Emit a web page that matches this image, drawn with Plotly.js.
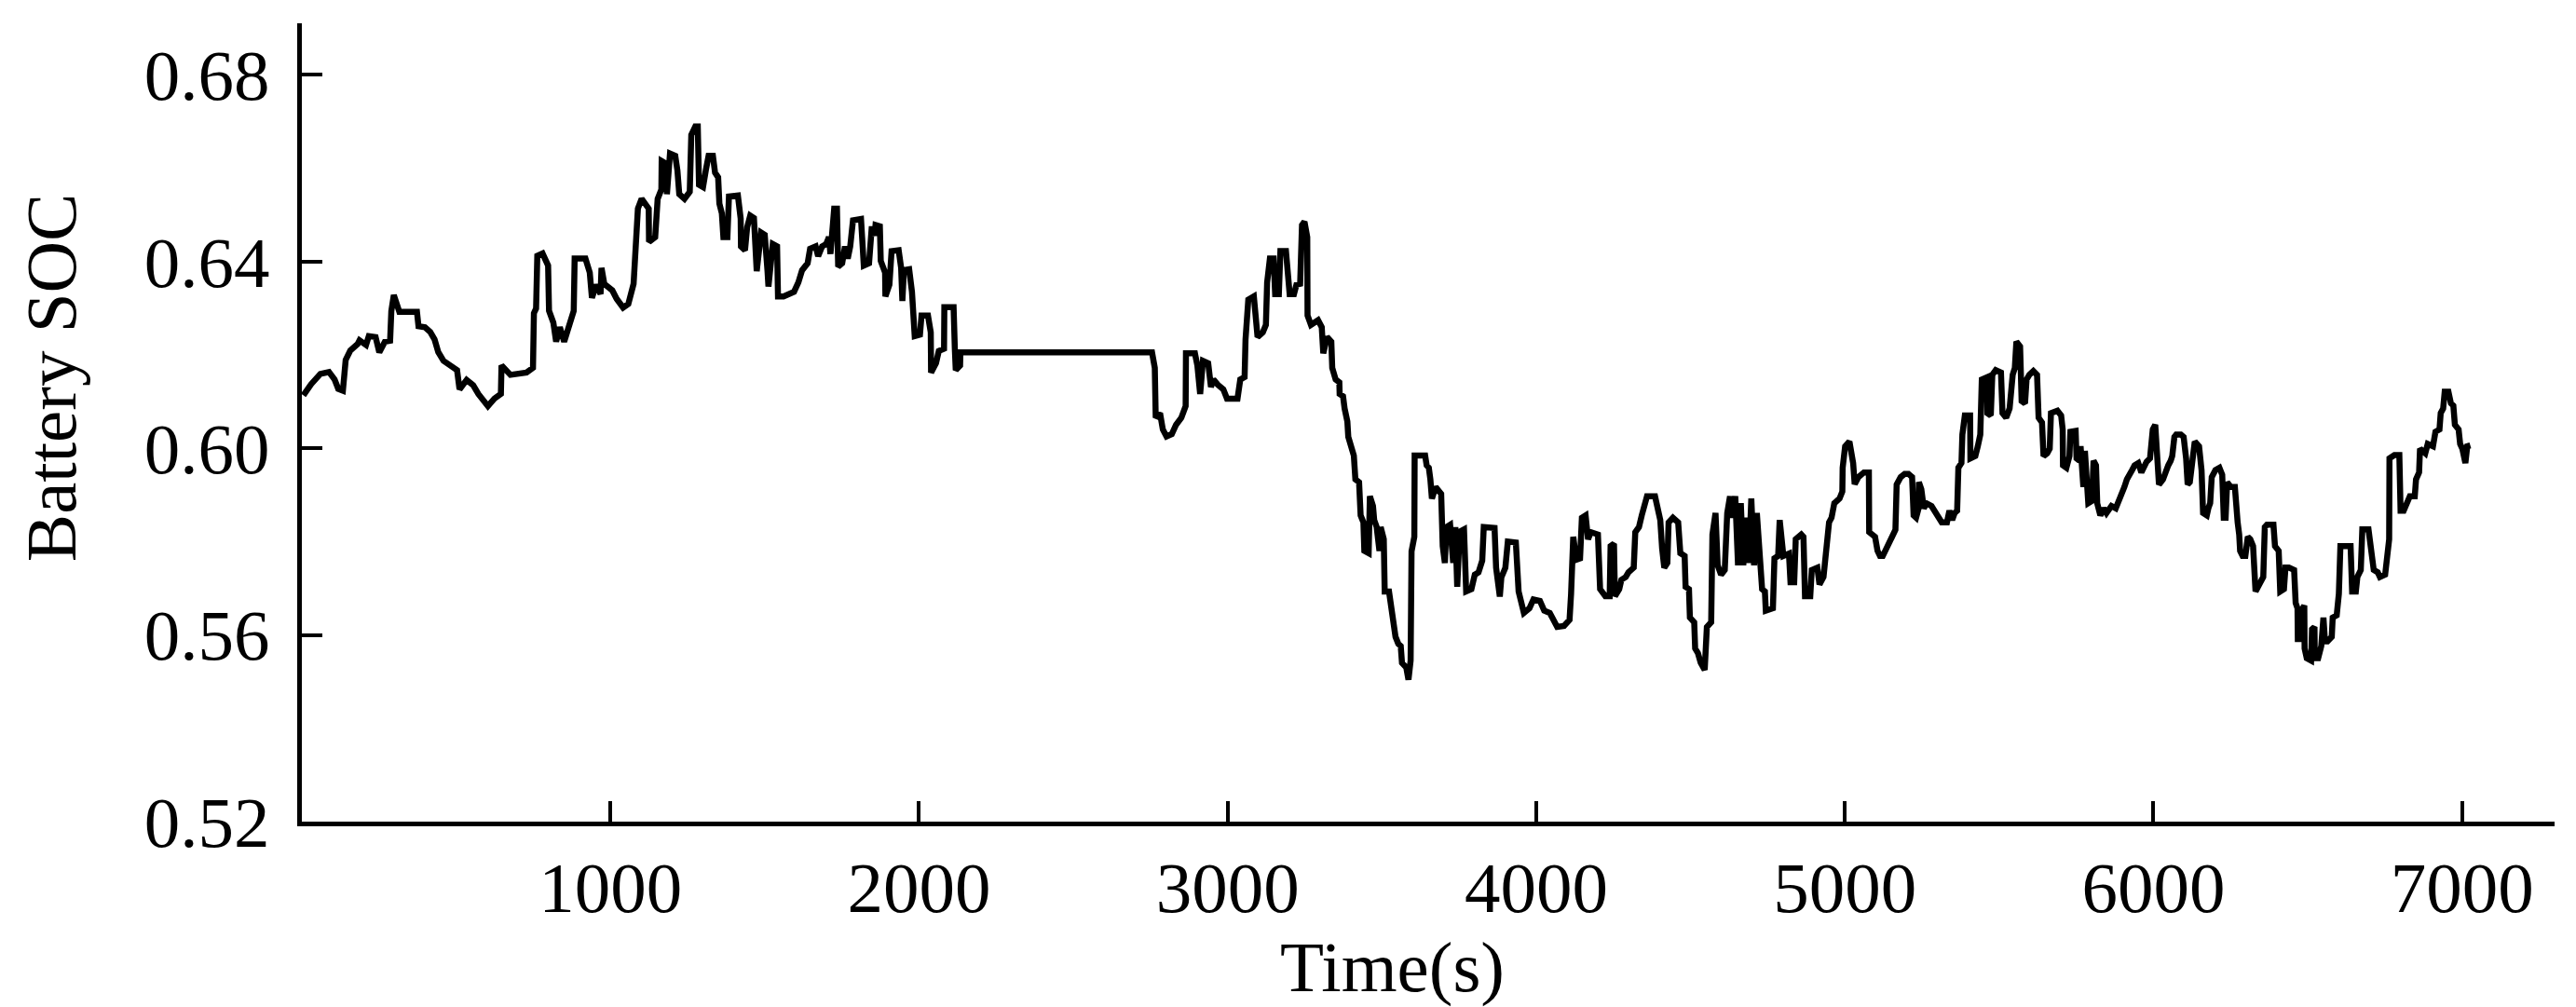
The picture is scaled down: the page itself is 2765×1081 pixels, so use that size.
<!DOCTYPE html>
<html>
<head>
<meta charset="utf-8">
<script src="https://cdn.plot.ly/plotly-3.0.1.min.js"></script>
<style>
  html, body { margin: 0; padding: 0; background: #ffffff; }
  #chart { width: 2765px; height: 1081px; }
</style>
</head>
<body>
<div id="chart"></div>
<script>
// Time axis values (s)
const timeSec = [
  5, 30, 60, 88, 106, 118, 133, 142, 157, 181, 187, 208, 217, 239, 251, 269, 286, 290, 298, 309,
  316, 373, 378, 399, 416, 430, 442, 459, 482, 503, 511, 534, 555, 572, 603, 624, 645, 647, 676, 728,
  749, 752, 759, 763, 780, 798, 801, 815, 824, 836, 850, 867, 881, 884, 919, 933, 940, 954, 968, 971,
  980, 1006, 1020, 1041, 1058, 1075, 1084, 1089, 1101, 1124, 1125, 1145, 1153, 1165, 1166, 1179, 1183, 1193, 1210, 1217,
  1223, 1240, 1257, 1262, 1275, 1283, 1287, 1300, 1309, 1318, 1332, 1339, 1349, 1353, 1361, 1366, 1379, 1384, 1413, 1422,
  1423, 1436, 1443, 1453, 1465, 1470, 1474, 1488, 1500, 1509, 1512, 1526, 1540, 1543, 1561, 1595, 1609, 1621, 1639, 1647,
  1665, 1673, 1686, 1699, 1708, 1713, 1725, 1734, 1738, 1751, 1760, 1769, 1777, 1786, 1812, 1821, 1838, 1847, 1856, 1859,
  1873, 1876, 1890, 1891, 1904, 1911, 1934, 1942, 1946, 1951, 1968, 1977, 1980, 1986, 2003, 2008, 2029, 2038, 2039, 2055,
  2064, 2081, 2082, 2112, 2116, 2119, 2133, 2134,
  2755, 2764, 2767, 2781, 2790, 2802, 2819, 2833, 2850, 2864, 2865, 2894, 2902, 2911, 2920, 2937, 2946, 2954, 2968, 2986,
  2998, 3032, 3041, 3055, 3058, 3067, 3085, 3093, 3097, 3114, 3124, 3128, 3137, 3149, 3154, 3166, 3171, 3189, 3197, 3201,
  3215, 3223, 3235, 3241, 3249, 3258, 3259, 3270, 3293, 3305, 3310, 3322, 3336, 3339, 3350, 3362, 3363, 3374, 3379, 3388,
  3391, 3402, 3409, 3414, 3426, 3431, 3440, 3443, 3457, 3461, 3471, 3475, 3483, 3492, 3496, 3506, 3509, 3523, 3530, 3535,
  3544, 3553, 3561, 3565, 3579, 3586, 3593, 3596, 3605, 3606, 3640, 3645, 3652, 3657, 3662, 3674, 3692, 3697, 3704, 3709,
  3721, 3731, 3738, 3744, 3752, 3766, 3773, 3790, 3801, 3813, 3825, 3830, 3865, 3870, 3882, 3887, 3900, 3908, 3934, 3943,
  3952, 3960, 3978, 3991, 4012, 4026, 4044, 4056, 4068, 4090, 4108, 4113, 4116, 4120, 4130, 4142, 4148, 4160, 4168, 4177,
  4200, 4203, 4207, 4224, 4238, 4241, 4252, 4255, 4269, 4276, 4290, 4299, 4316, 4321, 4333, 4342, 4356, 4359, 4385, 4394,
  4402, 4408, 4415, 4425, 4429, 4443, 4460, 4467, 4481, 4484, 4495, 4498, 4512, 4515, 4524, 4533, 4546, 4553, 4567, 4571,
  4581, 4588, 4599, 4611, 4619, 4628, 4633, 4645, 4654, 4663, 4671, 4680, 4689, 4697, 4706, 4715, 4723, 4732, 4741, 4744,
  4767, 4772, 4784, 4789, 4801, 4819, 4824, 4836, 4841, 4859, 4866, 4871, 4888, 4893, 4911, 4918, 4931, 4940, 4949, 4957,
  4966, 4983, 4992, 4993, 5001, 5015, 5027, 5032, 5044, 5062, 5078, 5079,
  5089, 5098, 5106, 5114, 5123, 5131, 5139, 5148, 5156, 5164, 5168, 5181, 5194, 5206, 5218, 5223, 5231, 5239, 5240, 5248,
  5256, 5264, 5281, 5289, 5298, 5306, 5314, 5331, 5339, 5348, 5356, 5364, 5368, 5378, 5381, 5389, 5406, 5407, 5423, 5431,
  5439, 5444, 5461, 5462, 5473, 5478, 5489, 5506, 5511, 5523, 5534, 5544, 5551, 5556, 5568, 5573, 5584, 5589, 5598, 5611,
  5623, 5628, 5639, 5644, 5656, 5664, 5668, 5689, 5701, 5706, 5707, 5718, 5728, 5731, 5748, 5751, 5761, 5764, 5773, 5778,
  5784, 5789, 5801, 5806, 5814, 5818, 5828, 5839, 5848, 5856, 5864, 5878, 5889, 5894, 5906, 5914, 5923, 5931, 5939, 5951,
  5961, 5968, 5978, 5989, 5998, 6006, 6014, 6018, 6031, 6039, 6048, 6056, 6061, 6068, 6074, 6089, 6098, 6106, 6111, 6118,
  6123, 6128, 6134, 6148, 6156, 6161, 6173, 6178, 6184, 6189, 6201, 6214, 6223, 6228, 6234, 6239, 6251, 6264, 6268, 6273,
  6278, 6281, 6289, 6298, 6306, 6314, 6323, 6328, 6331, 6339, 6348, 6356, 6361, 6368, 6389, 6394, 6406, 6411, 6423, 6428,
  6439, 6456, 6461, 6467, 6468, 6477, 6484, 6489, 6490, 6497, 6511, 6514, 6522, 6523, 6534, 6544, 6551, 6556, 6564, 6578,
  6581, 6594, 6601, 6606, 6639, 6644, 6656, 6661, 6672, 6677, 6697, 6706, 6714, 6727, 6734, 6751, 6761, 6764, 6765, 6781,
  6797, 6801, 6811, 6817, 6831, 6847, 6851, 6861, 6864, 6881, 6889, 6906, 6914, 6927, 6931, 6939, 6944, 6956, 6964, 6972,
  6977, 6989, 6994, 7001, 7011, 7017, 7027
];

// Battery state of charge
const batterySOC = [
  0.6113, 0.6137, 0.6159, 0.6163, 0.6147, 0.6127, 0.6123, 0.6189, 0.6209, 0.6223, 0.6231, 0.6221, 0.6240, 0.6238, 0.6205, 0.6228, 0.6230, 0.6294, 0.6328, 0.6305,
  0.6292, 0.6292, 0.6261, 0.6259, 0.6249, 0.6233, 0.6206, 0.6187, 0.6177, 0.6167, 0.6126, 0.6146, 0.6135, 0.6116, 0.6090, 0.6106, 0.6116, 0.6177, 0.6157, 0.6162,
  0.6172, 0.6289, 0.6299, 0.6412, 0.6417, 0.6391, 0.6294, 0.6269, 0.6228, 0.6259, 0.6228, 0.6259, 0.6294, 0.6406, 0.6406, 0.6376, 0.6322, 0.6350, 0.6330, 0.6386,
  0.6352, 0.6338, 0.6320, 0.6301, 0.6309, 0.6352, 0.6437, 0.6513, 0.6534, 0.6513, 0.6442, 0.6452, 0.6534, 0.6554, 0.6615, 0.6610, 0.6544, 0.6631, 0.6626, 0.6595,
  0.6544, 0.6534, 0.6549, 0.6671, 0.6689, 0.6689, 0.6564, 0.6559, 0.6595, 0.6626, 0.6626, 0.6590, 0.6580, 0.6524, 0.6503, 0.6452, 0.6452, 0.6539, 0.6541, 0.6492,
  0.6432, 0.6424, 0.6473, 0.6498, 0.6493, 0.6422, 0.6379, 0.6462, 0.6457, 0.6379, 0.6346, 0.6437, 0.6432, 0.6325, 0.6325, 0.6335, 0.6355, 0.6381, 0.6396, 0.6427,
  0.6432, 0.6411, 0.6432, 0.6437, 0.6452, 0.6416, 0.6513, 0.6513, 0.6389, 0.6396, 0.6432, 0.6406, 0.6432, 0.6488, 0.6491, 0.6391, 0.6396, 0.6475, 0.6455, 0.6478,
  0.6475, 0.6401, 0.6376, 0.6325, 0.6350, 0.6422, 0.6424, 0.6386, 0.6315, 0.6381, 0.6383, 0.6335, 0.6269, 0.6240, 0.6243, 0.6284, 0.6284, 0.6248, 0.6162, 0.6182,
  0.6208, 0.6213, 0.6302, 0.6302, 0.6213, 0.6167, 0.6177, 0.6205,
  0.6205, 0.6172, 0.6065, 0.6075, 0.6040, 0.6025, 0.6030, 0.6050, 0.6065, 0.6090, 0.6203, 0.6203, 0.6177, 0.6116, 0.6187, 0.6182, 0.6131, 0.6147, 0.6136, 0.6126,
  0.6106, 0.6106, 0.6147, 0.6152, 0.6233, 0.6318, 0.6325, 0.6248, 0.6238, 0.6248, 0.6264, 0.6355, 0.6406, 0.6406, 0.6330, 0.6330, 0.6422, 0.6422, 0.6361, 0.6330,
  0.6330, 0.6350, 0.6352, 0.6478, 0.6485, 0.6452, 0.6284, 0.6264, 0.6274, 0.6259, 0.6203, 0.6238, 0.6228, 0.6172, 0.6147, 0.6141, 0.6116, 0.6111, 0.6085, 0.6057,
  0.6024, 0.5999, 0.5984, 0.5933, 0.5927, 0.5856, 0.5841, 0.5780, 0.5775, 0.5897, 0.5876, 0.5846, 0.5831, 0.5780, 0.5831, 0.5805, 0.5693, 0.5693, 0.5657, 0.5617,
  0.5596, 0.5581, 0.5576, 0.5540, 0.5530, 0.5504, 0.5545, 0.5779, 0.5810, 0.5984, 0.5984, 0.5963, 0.5958, 0.5933, 0.5892, 0.5917, 0.5902, 0.5790, 0.5754, 0.5831,
  0.5836, 0.5754, 0.5831, 0.5703, 0.5821, 0.5826, 0.5693, 0.5698, 0.5729, 0.5734, 0.5759, 0.5831, 0.5829, 0.5744, 0.5682, 0.5723, 0.5744, 0.5800, 0.5798, 0.5693,
  0.5667, 0.5647, 0.5657, 0.5676, 0.5673, 0.5652, 0.5647, 0.5632, 0.5617, 0.5619, 0.5632, 0.5688, 0.5774, 0.5810, 0.5761, 0.5764, 0.5851, 0.5856, 0.5805, 0.5820,
  0.5815, 0.5769, 0.5698, 0.5683, 0.5683, 0.5790, 0.5795, 0.5683, 0.5698, 0.5718, 0.5724, 0.5734, 0.5744, 0.5820, 0.5831, 0.5856, 0.5882, 0.5897, 0.5897, 0.5861,
  0.5846, 0.5785, 0.5744, 0.5754, 0.5841, 0.5851, 0.5841, 0.5775, 0.5769, 0.5703, 0.5698, 0.5637, 0.5627, 0.5571, 0.5561, 0.5540, 0.5525, 0.5617, 0.5627, 0.5815,
  0.5861, 0.5749, 0.5729, 0.5739, 0.5861, 0.5897, 0.5851, 0.5897, 0.5749, 0.5882, 0.5749, 0.5851, 0.5754, 0.5892, 0.5749, 0.5861, 0.5780, 0.5698, 0.5693, 0.5652,
  0.5657, 0.5764, 0.5769, 0.5846, 0.5769, 0.5774, 0.5713, 0.5713, 0.5805, 0.5815, 0.5810, 0.5683, 0.5683, 0.5739, 0.5744, 0.5708, 0.5724, 0.5785, 0.5841, 0.5851,
  0.5882, 0.5892, 0.5907, 0.5958, 0.6004, 0.6014, 0.5968, 0.5923, 0.5938, 0.5948, 0.5948, 0.5820,
  0.5815, 0.5810, 0.5780, 0.5769, 0.5769, 0.5780, 0.5790, 0.5800, 0.5810, 0.5825, 0.5922, 0.5938, 0.5945, 0.5945, 0.5938, 0.5856, 0.5851, 0.5871, 0.5927, 0.5912,
  0.5871, 0.5882, 0.5876, 0.5866, 0.5861, 0.5851, 0.5841, 0.5841, 0.5866, 0.5846, 0.5861, 0.5866, 0.5958, 0.5968, 0.6029, 0.6070, 0.6070, 0.5978, 0.5983, 0.6004,
  0.6029, 0.6147, 0.6152, 0.6075, 0.6070, 0.6157, 0.6167, 0.6162, 0.6075, 0.6065, 0.6085, 0.6157, 0.6172, 0.6228, 0.6218, 0.6101, 0.6096, 0.6147, 0.6157, 0.6165,
  0.6157, 0.6065, 0.6055, 0.5983, 0.5989, 0.5999, 0.6075, 0.6080, 0.6070, 0.6040, 0.5963, 0.5958, 0.5983, 0.6035, 0.6037, 0.5978, 0.5973, 0.6004, 0.5917, 0.5994,
  0.5943, 0.5882, 0.5887, 0.5973, 0.5963, 0.5882, 0.5856, 0.5871, 0.5861, 0.5871, 0.5876, 0.5871, 0.5887, 0.5902, 0.5917, 0.5933, 0.5948, 0.5953, 0.5963, 0.5968,
  0.5948, 0.5958, 0.5971, 0.5978, 0.6040, 0.6050, 0.5948, 0.5922, 0.5933, 0.5953, 0.5963, 0.5973, 0.5983, 0.6024, 0.6029, 0.6029, 0.6024, 0.5978, 0.5922, 0.5927,
  0.5958, 0.5999, 0.6014, 0.6004, 0.5953, 0.5861, 0.5856, 0.5871, 0.5882, 0.5938, 0.5953, 0.5958, 0.5943, 0.5851, 0.5851, 0.5927, 0.5917, 0.5917, 0.5856, 0.5841,
  0.5815, 0.5780, 0.5769, 0.5769, 0.5810, 0.5805, 0.5790, 0.5739, 0.5693, 0.5703, 0.5718, 0.5724, 0.5831, 0.5836, 0.5836, 0.5790, 0.5780, 0.5693, 0.5698, 0.5744,
  0.5744, 0.5739, 0.5668, 0.5657, 0.5591, 0.5591, 0.5657, 0.5663, 0.5571, 0.5550, 0.5545, 0.5612, 0.5617, 0.5550, 0.5550, 0.5576, 0.5637, 0.5586, 0.5586, 0.5596,
  0.5637, 0.5642, 0.5688, 0.5790, 0.5790, 0.5693, 0.5693, 0.5724, 0.5739, 0.5826, 0.5826, 0.5764, 0.5739, 0.5734, 0.5724, 0.5729, 0.5790, 0.5805, 0.5978, 0.5985,
  0.5985, 0.5866, 0.5866, 0.5876, 0.5897, 0.5897, 0.5933, 0.5948, 0.5999, 0.5989, 0.6009, 0.6004, 0.6035, 0.6040, 0.6075, 0.6085, 0.6121, 0.6121, 0.6096, 0.6091,
  0.6050, 0.6040, 0.6009, 0.5999, 0.5968, 0.6004, 0.6006
];

const xTickVals = [1000, 2000, 3000, 4000, 5000, 6000, 7000];
const xTickText = ['1000', '2000', '3000', '4000', '5000', '6000', '7000'];
const yTickVals = [0.52, 0.56, 0.60, 0.64, 0.68];
const yTickText = ['0.52', '0.56', '0.60', '0.64', '0.68'];

const FONT = 'Liberation Serif, Times New Roman, serif';
// non-breaking padding (guarded by a zero-width char so it is not trimmed)
const PAD_X = '\u00A0\u00A0\u00A0\u00A0';
const PAD_Y = '\u00A0\u00A0\u00A0\u00A0\u00A0';
const ZW = '\u200B';

const trace = {
  x: timeSec,
  y: batterySOC,
  type: 'scatter',
  mode: 'lines',
  line: { color: '#000000', width: 6.5, shape: 'linear' },
  hoverinfo: 'skip',
  showlegend: false
};

const axisCommon = {
  showline: true,
  linewidth: 5,
  linecolor: '#000000',
  mirror: false,
  showgrid: false,
  zeroline: false,
  ticks: 'inside',
  ticklen: 22,
  tickwidth: 4,
  tickcolor: '#000000',
  tickfont: { family: FONT, size: 77, color: '#000000' },
  automargin: false,
  fixedrange: true
};

const layout = {
  width: 2765,
  height: 1081,
  margin: { l: 324, r: 23, t: 25, b: 199, pad: 0 },
  paper_bgcolor: '#ffffff',
  plot_bgcolor: '#ffffff',
  showlegend: false,
  font: { family: FONT, color: '#000000' },
  xaxis: Object.assign({}, axisCommon, {
    range: [0, 7300],
    tickmode: 'array',
    tickvals: xTickVals,
    ticktext: xTickText,
    ticklabelstandoff: 0,
    title: { text: 'Time(s)' + PAD_X + ZW, font: { family: FONT, size: 77, color: '#000000' }, standoff: 0 }
  }),
  yaxis: Object.assign({}, axisCommon, {
    range: [0.52, 0.691],
    tickmode: 'array',
    tickvals: yTickVals,
    ticktext: yTickText,
    ticklabelstandoff: 14,
    title: { text: ZW + PAD_Y + 'Battery SOC', font: { family: FONT, size: 77, color: '#000000' }, standoff: 49 }
  })
};

Plotly.newPlot('chart', [trace], layout, { displayModeBar: false, staticPlot: true });
</script>
</body>
</html>
